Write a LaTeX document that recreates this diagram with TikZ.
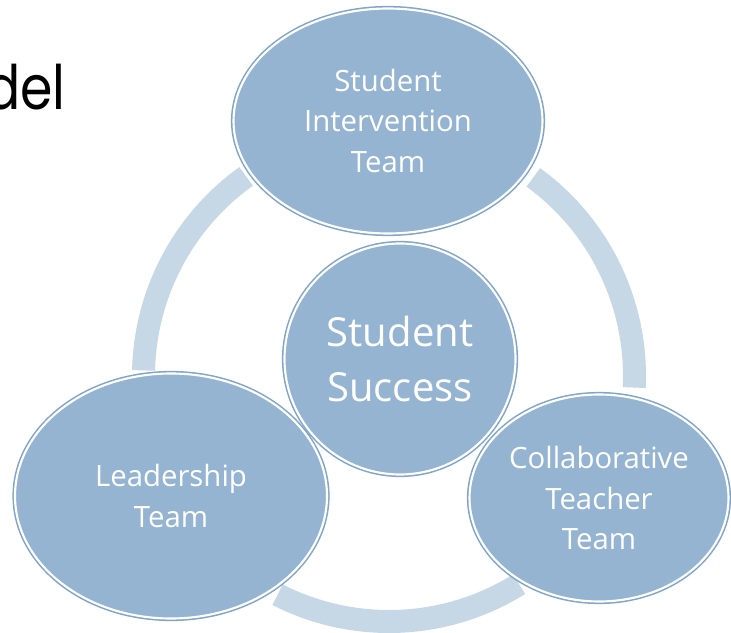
\documentclass[tikz,border=0pt]{standalone}
\usepackage{fontspec}
\newfontfamily\osans{Open Sans}
\newfontfamily\popfont{Poppins}
\usetikzlibrary{shapes.geometric}
\definecolor{fillc}{HTML}{94B4D2}
\definecolor{borderc}{HTML}{7FA5CB}
\definecolor{ringc}{HTML}{C6D7E6}
\tikzset{
  bubble/.style={ellipse, inner sep=0pt, fill=fillc, draw=white, line width=1.6pt,
    preaction={draw=borderc, line width=3.9pt},
    text=white, align=center, font=\osans\fontsize{22}{30.5}\selectfont},
  ringarc/.style={draw=ringc, line width=17.25pt, line cap=butt},
  titletext/.style={font=\popfont\fontsize{46}{56}\selectfont, text=black, inner sep=0pt}
}
\begin{document}
\begin{tikzpicture}[x=0.75pt,y=0.75pt]
\useasboundingbox (0,0) rectangle (731,632);
% title fragment
\node[titletext, anchor=base east, xscale=0.85] (title) at (66,522) {del};
% ring segments
\coordinate (rc) at (389,256);
\draw[ringarc] ([shift={(125.6:245.5)}]rc) arc[start angle=125.6, end angle=178.7, radius=184.125pt];
\draw[ringarc] ([shift={(54:245.5)}]rc) arc[start angle=54, end angle=-2.7, radius=184.125pt];
\draw[ringarc] ([shift={(-58:245.5)}]rc) arc[start angle=-58, end angle=-117, radius=184.125pt];
% bubbles
\node[bubble, minimum width=309*0.75pt, minimum height=225*0.75pt] (sit) at (388,511) {Student\\Intervention\\Team};
\node[bubble, minimum width=312*0.75pt, minimum height=245*0.75pt] (lead) at (171,136) {Leadership\\Team};
\node[bubble, minimum width=259*0.75pt, minimum height=207*0.75pt] (ctt) at (599,134) {Collaborative\\Teacher\\Team};
\node[bubble, minimum width=231*0.75pt, minimum height=231*0.75pt, font=\osans\fontsize{30}{41}\selectfont] (ss) at (400,273) {Student\\Success};
\end{tikzpicture}
\end{document}
